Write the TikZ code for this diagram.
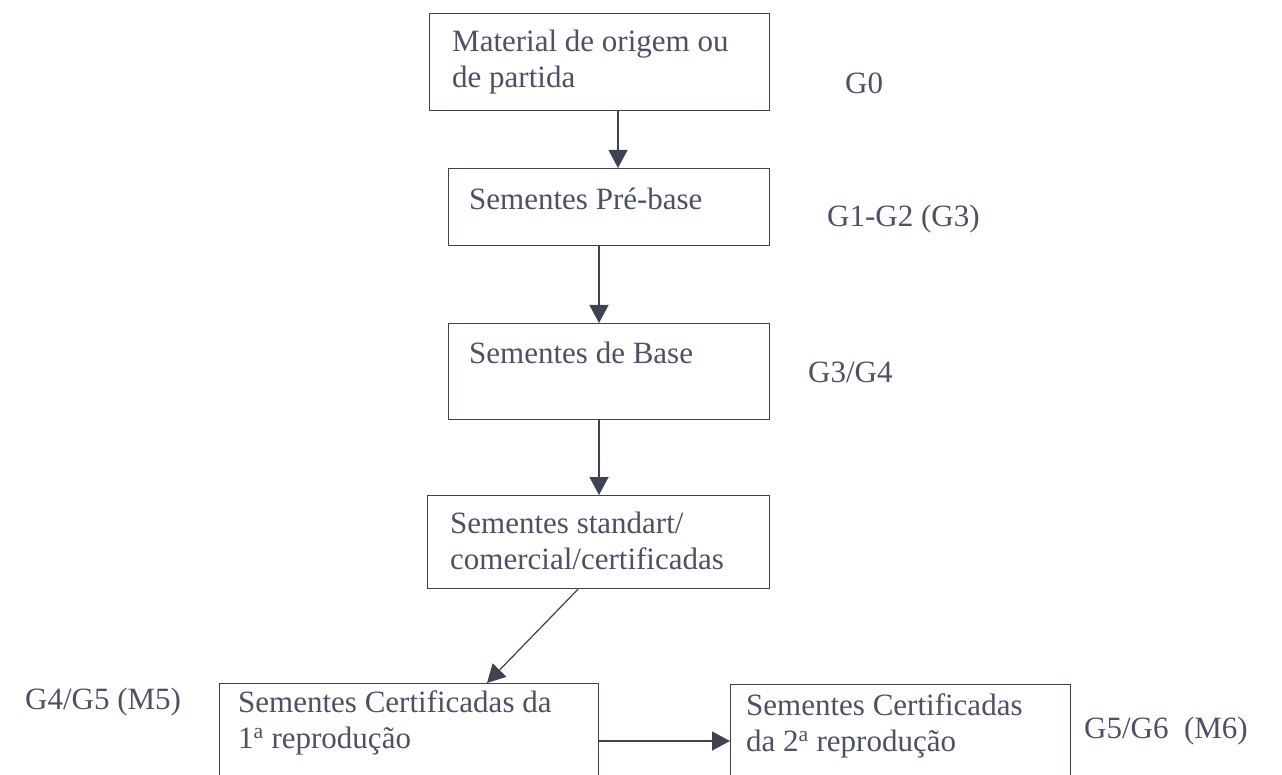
\documentclass[tikz,border=0pt]{standalone}
\usepackage{fontspec}
\setmainfont{Liberation Serif}
\usetikzlibrary{arrows.meta}
\definecolor{ln}{HTML}{3E4252}
\definecolor{tx}{HTML}{4C5166}
\newcommand{\twolines}[2]{\begin{tabular}[t]{@{}l@{}}#1\\#2\end{tabular}}
\begin{document}
\begin{tikzpicture}[x=1pt,y=-1pt,
  box/.style={draw=ln, line width=1.2pt, inner sep=0pt, anchor=north west},
  txt/.style={text=tx, inner sep=0pt, anchor=base west, font=\fontsize{31}{36}\selectfont},
  arr/.style={draw=ln, line width=1.2pt, -{Triangle[length=18pt,width=19pt]}}]
\path[use as bounding box, clip] (0,0) rectangle (1282,775);
\fill[white] (0,0) rectangle (1282,775);
% boxes
\node[box, minimum width=340pt, minimum height=97pt] (b1) at (429,13) {};
\node[box, minimum width=321pt, minimum height=77pt] (b2) at (448,168) {};
\node[box, minimum width=321pt, minimum height=96pt] (b3) at (448,323) {};
\node[box, minimum width=342pt, minimum height=93pt] (b4) at (427,495) {};
\node[box, minimum width=379pt, minimum height=130pt] (b5) at (219,683) {};
\node[box, minimum width=340pt, minimum height=130pt] (b6) at (730,684) {};
% texts in boxes
\node[txt] (t1) at (452,52) {\twolines{Material de origem ou}{de partida}};
\node[txt] (t2) at (469,210) {Sementes Pré-base};
\node[txt] (t3) at (469,363) {Sementes de Base};
\node[txt] (t4) at (450,533) {\twolines{Sementes standart/}{comercial/certificadas}};
\node[txt] (t5) at (238,712) {\twolines{Sementes Certificadas da}{1\textsuperscript{a} reprodução}};
\node[txt] (t6) at (746,715) {\twolines{Sementes Certificadas}{da 2\textsuperscript{a} reprodução}};
% side labels
\node[txt] (g0) at (845,94) {G0};
\node[txt] (g1) at (827,227) {G1-G2 (G3)};
\node[txt] (g3) at (808,382) {G3/G4};
\node[txt] (g4) at (25,709) {G4/G5 (M5)};
\node[txt] (g5) at (1084,738) {G5/G6\ \ (M6)};
% connectors
\coordinate (c1) at (618,0);
\coordinate (c2) at (599,0);
\coordinate (d1) at (578,0);
\coordinate (d2) at (487,0);
\coordinate (h) at (0,741);
\draw[arr] (b1.south -| c1) -- (b2.north -| c1);
\draw[arr] (b2.south -| c2) -- (b3.north -| c2);
\draw[arr] (b3.south -| c2) -- (b4.north -| c2);
\draw[arr] (b4.south -| d1) -- (b5.north -| d2);
\draw[arr] (b5.east |- h) -- (b6.west |- h);
\end{tikzpicture}
\end{document}
